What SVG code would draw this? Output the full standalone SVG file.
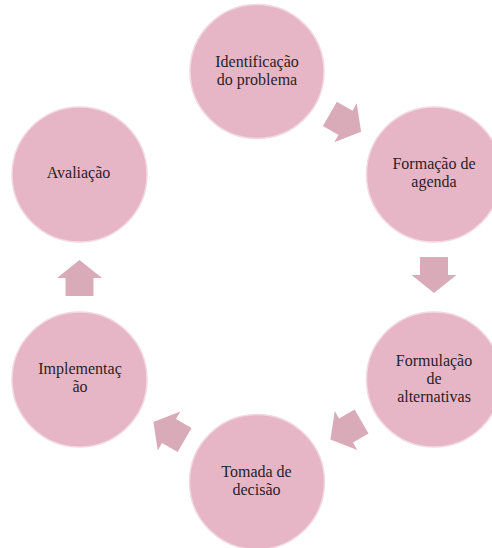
<svg xmlns="http://www.w3.org/2000/svg" width="492" height="548" viewBox="0 0 492 548">
  <style>
    .node circle { fill: #e7b6c6; stroke: #f2d9e1; stroke-width: 1.5; }
    .node text { font-family: "Liberation Serif", "Times New Roman", serif; font-size: 16px; fill: #2a2226; text-anchor: middle; }
    .arrow { fill: #d9abb8; }
  </style>
  <defs>
    <polygon id="blk" points="-18,-14 0,-14 0,-22.5 18,0 0,22.5 0,14 -18,14"/>
  </defs>
  <rect width="492" height="548" fill="#ffffff"/>
  <g id="connectors">
    <use href="#blk" class="arrow" transform="translate(345.5,122.8) rotate(30)"/>
    <use href="#blk" class="arrow" transform="translate(434,275) rotate(90)"/>
    <use href="#blk" class="arrow" transform="translate(346,430.5) rotate(150)"/>
    <use href="#blk" class="arrow" transform="translate(169,431) rotate(210)"/>
    <use href="#blk" class="arrow" transform="translate(79.5,278) rotate(270)"/>
  </g>
  <g id="n1" class="node">
    <circle cx="257" cy="71.5" r="67"/>
    <text x="257" y="67.3">Identificação</text>
    <text x="257" y="85.1">do problema</text>
  </g>
  <g id="n2" class="node">
    <circle cx="434" cy="174.5" r="67.5"/>
    <text x="434" y="169.1">Formação de</text>
    <text x="434" y="186.9">agenda</text>
  </g>
  <g id="n3" class="node">
    <circle cx="434" cy="379.5" r="67.5"/>
    <text x="434" y="366.2">Formulação</text>
    <text x="434" y="384">de</text>
    <text x="434" y="401.8">alternativas</text>
  </g>
  <g id="n4" class="node">
    <circle cx="257" cy="482" r="67.5"/>
    <text x="256.5" y="477">Tomada de</text>
    <text x="256.5" y="494.8">decisão</text>
  </g>
  <g id="n5" class="node">
    <circle cx="79.5" cy="379.5" r="67.5"/>
    <text x="80" y="374.1">Implementaç</text>
    <text x="80" y="391.9">ão</text>
  </g>
  <g id="n6" class="node">
    <circle cx="79.5" cy="174.5" r="67.5"/>
    <text x="78.5" y="178.3">Avaliação</text>
  </g>
</svg>
